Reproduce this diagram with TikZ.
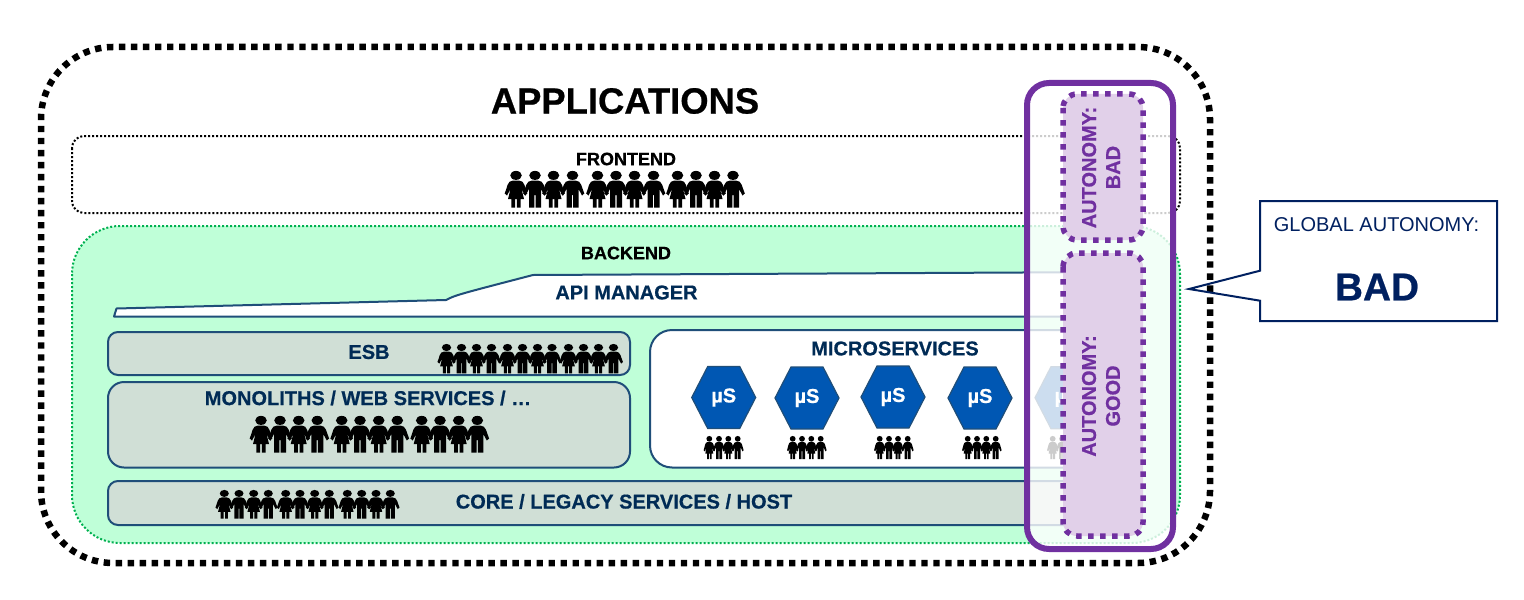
\documentclass[tikz,border=0pt]{standalone}
\usepackage{fontspec}
\setmainfont[BoldFeatures={FakeBold=0.6}]{Liberation Sans}
\definecolor{navy}{HTML}{002060}
\definecolor{ink}{HTML}{002B55}
\definecolor{edge}{HTML}{1F4E79}
\definecolor{mint}{HTML}{BFFFD8}
\definecolor{sage}{HTML}{D0DFD6}
\definecolor{plum}{HTML}{7030A0}
\definecolor{lilac}{HTML}{E1D0E9}
\definecolor{hexblue}{HTML}{0057B3}
\definecolor{leaf}{HTML}{00B050}
\newcommand{\fs}[1]{\fontsize{#1}{#1}\selectfont}
\tikzset{
  x=0.5pt,y=-0.5pt,
  label/.style={inner sep=0,text=ink,font=\fs{10}\bfseries},
  layer/.style={draw=edge,line width=1pt,fill=sage},
  autonomy/.style={draw=plum,fill=lilac,line width=2.75pt,dash pattern=on 2.75pt off 3.25pt,rounded corners=7pt},
  girl/.pic={
    \fill (0,4.4) ellipse[x radius=5.8,y radius=4.5];
    \fill (-3,9.5) -- (3,9.5) to[out=0,in=115] (11.3,22.5) -- (9,24.5) to[out=125,in=-60] (5.5,18)
      -- (8,28) -- (4.6,28) -- (4.6,36.6) -- (0.9,36.6) -- (0.9,28) -- (-0.9,28) -- (-0.9,36.6) -- (-4.6,36.6) -- (-4.6,28) -- (-8,28) -- (-5.5,18)
      to[out=-120,in=55] (-9,24.5) -- (-11.3,22.5) to[out=65,in=180] cycle;
  },
  boy/.pic={
    \fill (0,4.4) ellipse[x radius=5.8,y radius=4.5];
    \fill (-3,9.5) -- (3,9.5) to[out=0,in=115] (11.8,22.5) -- (9.5,24.5) to[out=125,in=-60] (6,18)
      -- (6,36.6) -- (0.6,36.6) -- (0.6,24) -- (-0.6,24) -- (-0.6,36.6) -- (-6,36.6) -- (-6,18)
      to[out=-120,in=55] (-9.5,24.5) -- (-11.8,22.5) to[out=65,in=180] cycle;
  },
  hexa/.pic={
    \draw[draw=edge,line width=0.6pt,fill=hexblue] (-32,0) -- (-16,-31) -- (16,-31) -- (32,0) -- (16,31) -- (-16,31) -- cycle;
  }
}
\newcommand{\crowd}[3]{%
  \foreach \xx [count=\ii] in {#1}{%
    \ifodd\ii
      \pic[#3] at (\xx,#2) {girl};
    \else
      \pic[#3] at (\xx,#2) {boy};
    \fi
  }%
}
\begin{document}
\begin{tikzpicture}
\useasboundingbox (0,0) rectangle (1524,599);
\fill[white] (0,0) rectangle (1524,599);
% outer
\draw[line width=3.25pt,dash pattern=on 3.2pt off 2.8119pt,dash phase=2.6pt,rounded corners=36pt] (41,47) rectangle (1210,563);
\node[inner sep=0,font=\fs{18.2}\bfseries] (apps) at (625,101) {APPLICATIONS};
% frontend
\draw[line width=1pt,dash pattern=on 1pt off 1pt,rounded corners=6pt] (72,136) rectangle (1180,213);
\node[inner sep=0,font=\fs{9}\bfseries] (fe) at (626,159) {FRONTEND};
\crowd{516,535,553.5,572.5,597.5,616,634.5,653.5,677.5,696,714.5,733}{171}{scale=1}
% backend
\draw[draw=leaf,fill=mint,line width=1pt,dash pattern=on 1pt off 1pt,rounded corners=24pt] (72,226) rectangle (1180,543);
\node[inner sep=0,font=\fs{9}\bfseries] (be) at (626,253) {BACKEND};
% api manager
\draw[draw=edge,line width=1pt,fill=white,line join=round] (114,316.5) -- (116.5,308.5) -- (446,300) .. controls (456,295) .. (533,275) -- (1120,272) -- (1120,316.5) -- cycle;
\node[label] (api) at (626.5,292.5) {API MANAGER};
% layers
\draw[layer,rounded corners=5pt] (108,332) rectangle (630,375);
\node[label] (esb) at (369,352) {ESB};
\crowd{446.5,461.5,476.5,491.5,507.5,522.5,537.5,552,568.5,583.5,598.5,613.5}{344}{scale=0.8}
\draw[layer,rounded corners=8pt] (108,382) rectangle (630,467.5);
\node[label] (mono) at (368,398) {MONOLITHS / WEB SERVICES / …};
\crowd{261,280,298.7,317.3,341.7,360,378.7,397.3,421.7,440,458.7,477.3}{416}{scale=1}
\draw[layer,rounded corners=5pt] (108,481) rectangle (1110,525);
\node[label] (core) at (624,501.5) {CORE / LEGACY SERVICES / HOST};
\crowd{224.3,239,253.7,268.3,285.7,300,314.7,329.3,347.3,361.7,376,390.3}{490}{scale=0.78}
% microservices
\draw[draw=edge,line width=1pt,fill=white,rounded corners=11pt] (650,330) rectangle (1110,467.5);
\node[label] (ms) at (895,348.5) {MICROSERVICES};
\foreach \hx/\hy/\nm in {723.7/397.5/a,807/398/b,893/397/c,980/398/d,1067/397.7/e}{
  \pic at (\hx,\hy) {hexa};
  \node[inner sep=0,text=white,font=\fs{10}\bfseries] (mu\nm) at (\hx,\hy) {µS};
}
\crowd{709.3,719,728.3,737.7,792.7,802,811.3,820.7,879.7,889,898,907.7,967.7,977,986.3,995.7,1052.7,1062}{436}{xscale=0.5,yscale=0.63}
% purple box
\draw[draw=plum,line width=3pt,fill=white,fill opacity=0.8,rounded corners=11pt] (1027,83) rectangle (1173,549);
\draw[autonomy] (1063,94) rectangle (1143,240);
\draw[autonomy] (1063,253) rectangle (1143,536);
\node[inner sep=0,rotate=90,align=center,text=plum,font=\fs{10}\bfseries] (ab) at (1101,167.5) {AUTONOMY:\\[2pt]BAD};
\node[inner sep=0,rotate=90,align=center,text=plum,font=\fs{10}\bfseries] (ag) at (1101,396) {AUTONOMY:\\[2pt]GOOD};
% callout
\draw[draw=navy,line width=1pt,line join=miter] (1260,201) -- (1497,201) -- (1497,321) -- (1260,321) -- (1260,300.7) -- (1189,289) -- (1260,270.7) -- cycle;
\node[inner sep=0,font=\fs{10},text=navy] (ga) at (1376.5,225) {GLOBAL AUTONOMY:};
\node[inner sep=0,font=\fs{19.4}\bfseries,text=navy] (gb) at (1377,287) {BAD};
\end{tikzpicture}
\end{document}
